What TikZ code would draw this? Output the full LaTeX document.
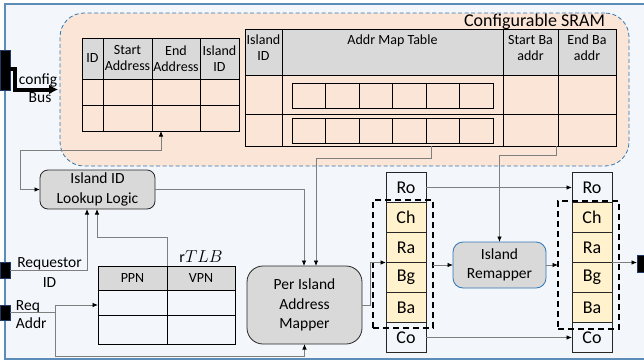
\documentclass[tikz,border=0pt]{standalone}
\usepackage{fontspec}
\setmainfont{Carlito}
\usetikzlibrary{arrows.meta,calc}
\definecolor{framebg}{HTML}{F3F7FB}
\definecolor{frameln}{HTML}{5B8DB8}
\definecolor{peach}{HTML}{FBE5D6}
\definecolor{sramln}{HTML}{2E75B6}
\definecolor{hgray}{HTML}{D9D9D9}
\definecolor{yel}{HTML}{FFF2CC}
\definecolor{connc}{HTML}{7F7F7F}
\definecolor{pinln}{HTML}{1F3864}
\begin{document}
\begin{tikzpicture}[x=1pt,y=-1pt,
  every node/.style={inner sep=0pt, outer sep=0pt},
  >={Latex[length=5.5pt,width=4.5pt,color=black]},
  tfont/.style={font=\fontsize{14}{16}\selectfont},
  tcell/.style={draw=black, line width=0.8pt, tfont, align=center},
  hcell/.style={tcell, fill=hgray},
  proc/.style={draw=black!85, fill=hgray, line width=0.8pt, align=center, font=\fontsize{15.5}{19.5}\selectfont},
  fcell/.style={draw=black!85, line width=1pt, minimum width=40pt, minimum height=30pt, font=\fontsize{18}{20}\selectfont},
  dbox/.style={draw=black, line width=1.5pt, dash pattern=on 6pt off 4pt},
  pinbox/.style={fill=black, draw=pinln, line width=0.6pt},
  lbl/.style={font=\fontsize{15.5}{20}\selectfont},
  conn/.style={draw=connc, line width=0.8pt, ->},
]
\clip (0,0) rectangle (644,362);
% frame
\draw[draw=frameln, fill=framebg, line width=1.2pt] (5,4) rectangle (700,359);

% SRAM region
\node[draw=sramln, fill=peach, line width=0.8pt, dash pattern=on 4pt off 2.5pt, rounded corners=24pt,
      minimum width=569pt, minimum height=153pt] (sram) at (344.5,89.5) {};
\node[font=\fontsize{18}{20}\selectfont, anchor=base east] (sramt) at (605,26) {Configurable SRAM};

% Table 1
\node[hcell, minimum width=21pt, minimum height=41pt] (t1h1) at (92.5,58.5) {ID};
\node[hcell, minimum width=49pt, minimum height=41pt] (t1h2) at (127.5,58.5) {Start\\Address};
\node[hcell, minimum width=48pt, minimum height=41pt] (t1h3) at (176,58.5) {End\\Address};
\node[hcell, minimum width=39pt, minimum height=41pt] (t1h4) at (219.5,58.5) {Island\\ID};
\foreach \n/\cx/\w in {1/92.5/21, 2/127.5/49, 3/176/48, 4/219.5/39} {
  \node[tcell, minimum width=\w pt, minimum height=26pt] (t1a\n) at (\cx,92) {};
  \node[tcell, minimum width=\w pt, minimum height=26pt] (t1b\n) at (\cx,118) {};
}

% Table 2
\node[hcell, minimum width=37pt, minimum height=46pt,
  label={[tfont, align=center, anchor=north, yshift=-6pt]north:{Island\\ID}}] (t2h1) at (263.5,52) {};
\node[hcell, minimum width=221pt, minimum height=46pt,
  label={[tfont, align=center, anchor=north, yshift=-6pt]north:{Addr Map Table}}] (t2h2) at (392.5,52) {};
\node[hcell, minimum width=55pt, minimum height=46pt,
  label={[tfont, align=center, anchor=north, yshift=-6pt]north:{Start Ba\\addr}}] (t2h3) at (530.5,52) {};
\node[hcell, minimum width=58pt, minimum height=46pt,
  label={[tfont, align=center, anchor=north, yshift=-6pt]north:{End Ba\\addr}}] (t2h4) at (587,52) {};
\node[tcell, minimum width=37pt, minimum height=39pt] (id2) at (263.5,94.5) {};
\node[tcell, minimum width=221pt, minimum height=39pt] (am2) at (392.5,94.5) {};
\node[tcell, minimum width=55pt, minimum height=39pt] (sb2) at (530.5,94.5) {};
\node[tcell, minimum width=58pt, minimum height=39pt] (eb2) at (587,94.5) {};
\node[tcell, minimum width=37pt, minimum height=32pt] (id3) at (263.5,130) {};
\node[tcell, minimum width=221pt, minimum height=32pt] (am3) at (392.5,130) {};
\node[tcell, minimum width=55pt, minimum height=32pt] (sb3) at (530.5,130) {};
\node[tcell, minimum width=58pt, minimum height=32pt] (eb3) at (587,130) {};
\foreach \k in {0,...,5} {
  \node[draw=black, line width=1pt, minimum width=33.5pt, minimum height=25pt] (mA\k) at (308.75+33.5*\k,95.5) {};
  \node[draw=black, line width=1pt, minimum width=33.5pt, minimum height=25pt] (mB\k) at (308.75+33.5*\k,130.5) {};
}

% rTLB
\node[font=\fontsize{16}{18}\selectfont] (tlbt) at (201,257) {$\mathrm{r}TLB$};
\node[hcell, minimum width=69pt, minimum height=24pt] (tp0) at (132.5,278) {PPN};
\node[hcell, minimum width=68pt, minimum height=24pt] (tv0) at (201,278) {VPN};
\node[tcell, minimum width=69pt, minimum height=25pt] (tp1) at (132.5,302.5) {};
\node[tcell, minimum width=68pt, minimum height=25pt] (tv1) at (201,302.5) {};
\node[tcell, minimum width=69pt, minimum height=29pt] (tp2) at (132.5,329.5) {};
\node[tcell, minimum width=68pt, minimum height=29pt] (tv2) at (201,329.5) {};

% process boxes
\node[proc, rounded corners=8pt, minimum width=115pt, minimum height=39pt] (lookup) at (97.5,189.5) {Island ID\\Lookup Logic};
\node[proc, rounded corners=16pt, minimum width=115pt, minimum height=78pt] (mapper) at (304.5,305) {Per Island\\Address\\Mapper};
\node[proc, draw=sramln, rounded corners=10pt, minimum width=93pt, minimum height=46pt] (remap) at (499.5,265) {Island\\Remapper};

% address fields columns
\foreach \t/\i/\f in {Ro/1/none, Ch/2/yel, Ra/3/yel, Bg/4/yel, Ba/5/yel, Co/6/none} {
  \node[fcell, fill=\f] (a\i) at (406,157.5+30*\i) {\t};
  \node[fcell, fill=\f] (b\i) at (592,157.5+30*\i) {\t};
}
\node[dbox, minimum width=60pt, minimum height=128pt] (dbox1) at (403,264) {};
\node[dbox, minimum width=61pt, minimum height=128pt] (dbox2) at (588.5,265) {};

% pins
\node[pinbox, minimum width=10pt, minimum height=40pt] (pcfg) at (5,70) {};
\node[pinbox, minimum width=10pt, minimum height=16pt] (preq) at (5,270) {};
\node[pinbox, minimum width=10pt, minimum height=15pt] (paddr) at (5,312.5) {};
\node[pinbox, minimum width=9pt, minimum height=17pt] (pout) at (641.5,263.5) {};

% labels
\node[lbl] (cfgt) at (38,80) {config};
\node[lbl] (bust) at (40,98) {Bus};
\node[lbl, align=center] (reqid) at (49.5,273) {Requestor\\ID};
\node[lbl, align=left, anchor=west, font=\fontsize{15.5}{18}\selectfont] (reqaddr) at (16,315) {Req\\Addr};

% config bus
\draw[line width=4pt, -{Latex[length=9pt,width=10pt]}] ($(pcfg.east)+(0,-1)$) -- ++(5,0) |- ($(sram.west)+(-2,0)$);

% connectors
\draw[conn, <->] (lookup.west) -- ++(-20,0) |- ($(t1b3.south west)+(9,19)$) -- ($(t1b3.south west)+(9,0)$);
\draw[conn] (tp0.north east) -- ++(0,-29) -| ($(lookup.south)+(-0.5,0)$);
\draw[conn] (preq.east) -| ($(lookup.south)+(-10.5,0)$);
\draw[conn, -] (paddr.east) -- ++(45,0) coordinate (sp);
\draw[conn] (sp) |- ($(tp1.west)+(0,2.5)$);
\draw[conn] (sp) |- ($(mapper.south)+(0,12)$) -- (mapper.south);
\draw[conn] (lookup.east) -| ($(mapper.north)+(-0.5,0)$);
\draw[conn] ($(am3.south west)+(149,0)$) -- ++(0,12) -| ($(mapper.north)+(11.5,0)$);
\draw[conn] ($(sb3.south east)+(-2,0)$) -- ++(0,9) -| (remap.north);
\draw[conn] (mapper.east) -- ++(8,0) |- (a3.south west);
\draw[conn] (dbox1.east |- remap.west) -- (remap.west);
\draw[conn] (remap.east) -- (dbox2.west |- remap.east);
\draw[conn] (a1) -- (b1);
\draw[conn] (a6) -- (b6);
\draw[conn] (b3.south east) -- (pout.west |- b3.south east);
\end{tikzpicture}
\end{document}
